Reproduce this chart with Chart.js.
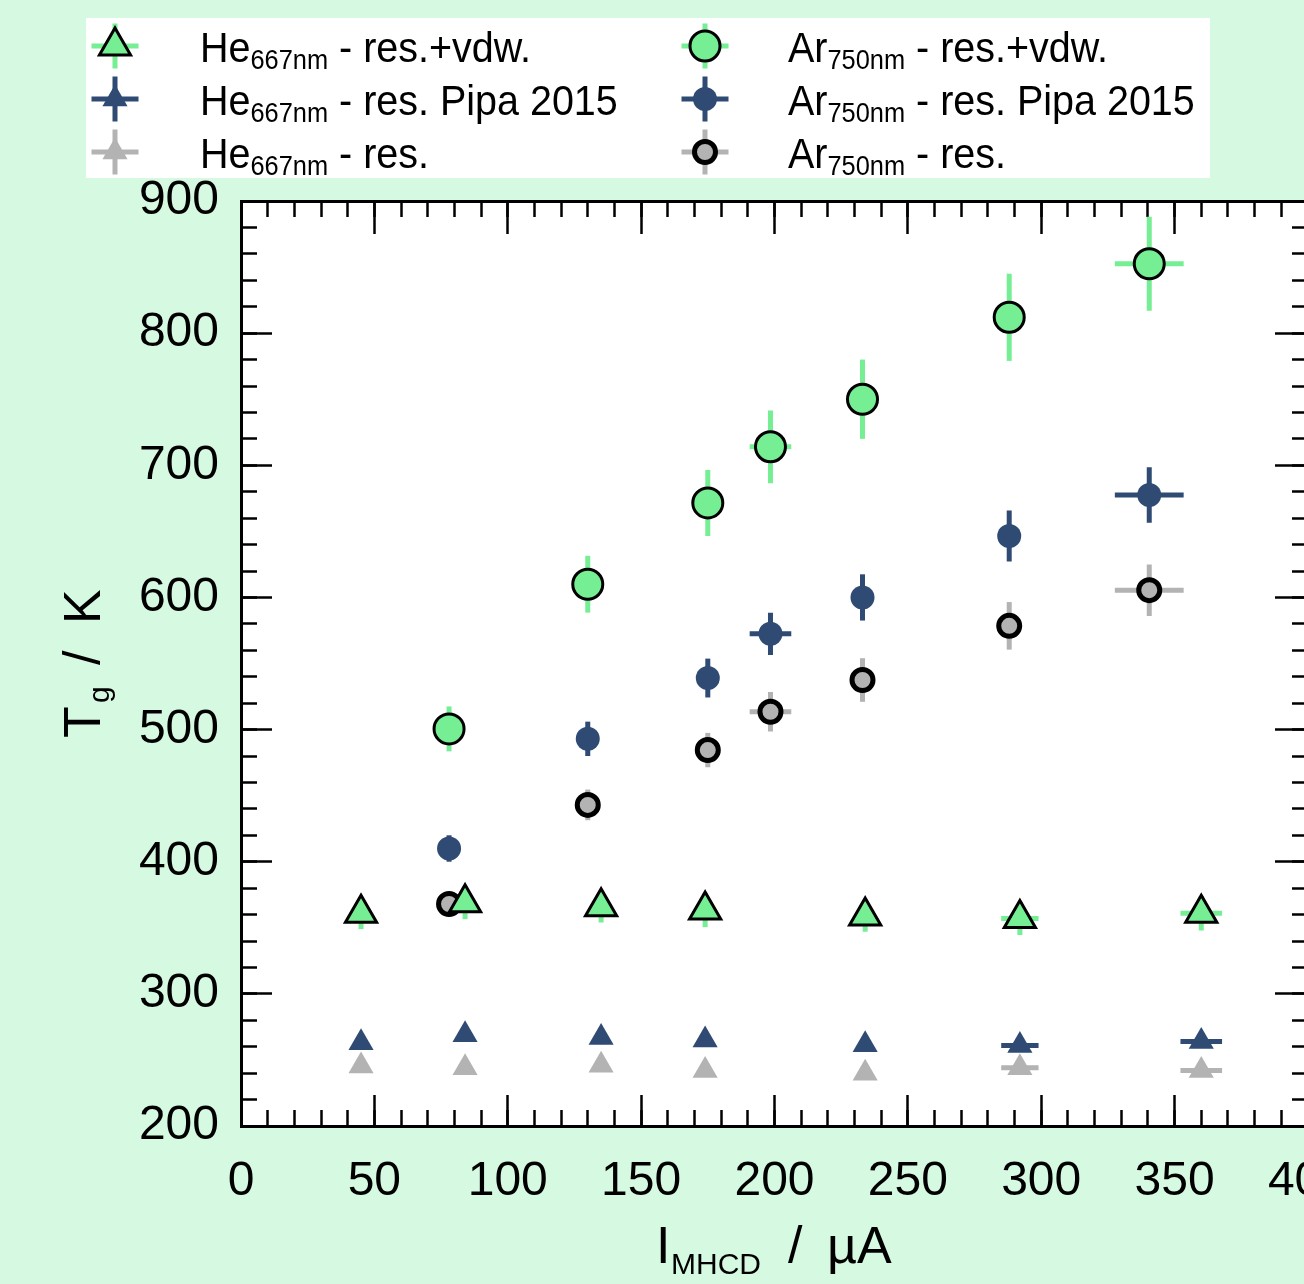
<!DOCTYPE html>
<html>
<head>
<meta charset="utf-8">
<script src="https://cdn.jsdelivr.net/npm/chart.js"></script>
<style>
  html, body { margin: 0; padding: 0; background: #d6f9e1; overflow: hidden; }
  #marco { width: 1304px; height: 1284px; overflow: hidden; }
  canvas { display: block; }
</style>
</head>
<body>
<div id="marco"><canvas id="grafico" width="1406" height="1284" style="width:1406px;height:1284px"></canvas></div>
<script>
// corriente de la descarga (uA) y temperatura del gas (K)
const heCorriente = [45, 84, 135, 174, 234, 292, 360];
const heCorrienteErr = [0, 0, 0, 0, 0, 7, 7.8];
const heVdw = [361, 369, 366, 363.5, 359, 357, 361];
const heVdwErr = [12, 12.5, 12, 13, 12, 12.5, 13];
const hePipa = [263, 269, 267, 265, 261.5, 261, 264];
const hePipaErr = [5, 5, 5, 5, 5, 5, 5];
const heRes = [245.5, 244, 246, 242, 240, 244, 242];
const heResErr = [5, 5, 5, 5, 5, 5, 5];

const arCorriente = [78, 130, 175, 198.5, 233, 288, 340.5];
const arCorrienteErr = [0, 0, 0, 7.8, 0, 0, 12.9];
const arVdw = [500.5, 610, 671.5, 714, 750, 812, 852.5];
const arVdwErr = [17, 21.5, 25, 27.5, 30, 33, 35.5];
const arPipa = [410, 493, 539, 572.5, 600, 646.5, 677.5];
const arPipaErr = [10, 13, 14.7, 16, 17.5, 19.3, 21];
const arRes = [368, 443, 484.5, 513.5, 537.5, 578.5, 605.5];
const arResErr = [9, 11.6, 13, 15, 16.5, 18, 19.5];

// ticks
const xTicks = [0, 50, 100, 150, 200, 250, 300, 350, 400];
const xMenores = [0, 10, 20, 30, 40, 50, 60, 70, 80, 90, 100, 110, 120, 130, 140, 150, 160, 170, 180, 190, 200,
  210, 220, 230, 240, 250, 260, 270, 280, 290, 300, 310, 320, 330, 340, 350, 360, 370, 380, 390, 400];
const yTicks = [200, 300, 400, 500, 600, 700, 800, 900];
const yMenores = [200, 220, 240, 260, 280, 300, 320, 340, 360, 380, 400, 420, 440, 460, 480, 500, 520, 540, 560,
  580, 600, 620, 640, 660, 680, 700, 720, 740, 760, 780, 800, 820, 840, 860, 880, 900];

// textos de la leyenda
const gases = ['He', 'He', 'He', 'Ar', 'Ar', 'Ar'];
const lineas = ['667nm', '667nm', '667nm', '750nm', '750nm', '750nm'];
const metodos = [' - res.+vdw.', ' - res. Pipa 2015', ' - res.', ' - res.+vdw.', ' - res. Pipa 2015', ' - res.'];

const verde = '#76ee94';
const azul = '#2f4a73';
const gris = '#b3b3b3';
const fondoColor = '#d6f9e1';
const fuente = "'Liberation Sans', Arial, sans-serif";

let puntos = (xs, ys) => xs.map((x, i) => ({x: x, y: ys[i]}));

let datasets = [
  {label: 'He vdw', data: puntos(heCorriente, heVdw), errX: heCorrienteErr, errY: heVdwErr, colorError: verde,
    pointStyle: 'triangle', pointRadius: 18, pointBackgroundColor: verde, pointBorderColor: '#000', pointBorderWidth: 3, order: 0},
  {label: 'He Pipa', data: puntos(heCorriente, hePipa), errX: heCorrienteErr, errY: hePipaErr, colorError: azul,
    pointStyle: 'triangle', pointRadius: 14.5, pointBackgroundColor: azul, pointBorderColor: azul, pointBorderWidth: 0, order: 1},
  {label: 'He res', data: puntos(heCorriente, heRes), errX: heCorrienteErr, errY: heResErr, colorError: gris,
    pointStyle: 'triangle', pointRadius: 14.5, pointBackgroundColor: gris, pointBorderColor: gris, pointBorderWidth: 0, order: 2},
  {label: 'Ar vdw', data: puntos(arCorriente, arVdw), errX: arCorrienteErr, errY: arVdwErr, colorError: verde,
    pointStyle: 'circle', pointRadius: 15, pointBackgroundColor: verde, pointBorderColor: '#000', pointBorderWidth: 3, order: 3},
  {label: 'Ar Pipa', data: puntos(arCorriente, arPipa), errX: arCorrienteErr, errY: arPipaErr, colorError: azul,
    pointStyle: 'circle', pointRadius: 12, pointBackgroundColor: azul, pointBorderColor: azul, pointBorderWidth: 0, order: 4},
  {label: 'Ar res', data: puntos(arCorriente, arRes), errX: arCorrienteErr, errY: arResErr, colorError: gris,
    pointStyle: 'circle', pointRadius: 10.5, pointBackgroundColor: gris, pointBorderColor: '#000', pointBorderWidth: 5, order: 5}
];
datasets.forEach(d => { d.pointHoverRadius = d.pointRadius; d.showLine = false; });

// fondo verde y area blanca
const fondo = {
  id: 'fondo',
  beforeDraw(chart) {
    const ctx = chart.ctx, a = chart.chartArea;
    ctx.save();
    ctx.fillStyle = fondoColor;
    ctx.fillRect(0, 0, chart.width, chart.height);
    ctx.fillStyle = '#fff';
    ctx.fillRect(a.left, a.top, a.right - a.left, a.bottom - a.top);
    ctx.restore();
  }
};

// barras de error debajo de cada serie
const barrasError = {
  id: 'barrasError',
  beforeDatasetDraw(chart, args) {
    const ds = chart.data.datasets[args.index];
    const sx = chart.scales.x, sy = chart.scales.y;
    const ctx = chart.ctx;
    ctx.save();
    ctx.strokeStyle = ds.colorError;
    ctx.lineWidth = 5;
    ctx.lineCap = 'butt';
    ds.data.forEach((p, i) => {
      const px = sx.getPixelForValue(p.x), py = sy.getPixelForValue(p.y);
      ctx.beginPath();
      if (ds.errY[i]) {
        ctx.moveTo(px, sy.getPixelForValue(p.y - ds.errY[i]));
        ctx.lineTo(px, sy.getPixelForValue(p.y + ds.errY[i]));
      }
      if (ds.errX[i]) {
        ctx.moveTo(sx.getPixelForValue(p.x - ds.errX[i]), py);
        ctx.lineTo(sx.getPixelForValue(p.x + ds.errX[i]), py);
      }
      ctx.stroke();
    });
    ctx.restore();
  }
};

function marcador(ctx, ds, x, y) {
  ctx.fillStyle = ds.pointBackgroundColor;
  ctx.strokeStyle = ds.pointBorderColor;
  ctx.lineWidth = ds.pointBorderWidth;
  Chart.helpers.drawPoint(ctx, {pointStyle: ds.pointStyle, radius: ds.pointRadius, borderWidth: ds.pointBorderWidth, rotation: 0}, x, y);
}

// pinta trozos de texto alineando el borde de la tinta
function trozo(ctx, texto, font, x, y) {
  ctx.font = font;
  const m = ctx.measureText(texto);
  ctx.fillText(texto, x + m.actualBoundingBoxLeft, y);
}

const leyenda = {
  id: 'leyenda',
  afterDraw(chart) {
    const ctx = chart.ctx;
    ctx.save();
    ctx.fillStyle = '#fff';
    ctx.fillRect(86, 18, 1124, 160);
    chart.data.datasets.forEach((ds, i) => {
      const col = i < 3 ? 0 : 1;
      const fila = i % 3;
      const mx = col == 0 ? 115 : 705;
      const my = 46 + fila * 53;
      ctx.strokeStyle = ds.colorError;
      ctx.lineWidth = 5;
      ctx.beginPath();
      ctx.moveTo(mx - 23.5, my); ctx.lineTo(mx + 23.5, my);
      ctx.moveTo(mx, my - 22.5); ctx.lineTo(mx, my + 22.5);
      ctx.stroke();
      marcador(ctx, ds, mx, my);

      // texto algo mas estrecho, como la fuente original
      ctx.save();
      ctx.translate(col == 0 ? 200 : 788, my + 16);
      ctx.scale(0.94, 1);
      let tx = 0;
      ctx.fillStyle = '#000';
      ctx.textAlign = 'left';
      ctx.textBaseline = 'alphabetic';
      ctx.font = '42px ' + fuente;
      ctx.fillText(gases[i], tx, 0);
      tx += ctx.measureText(gases[i]).width;
      ctx.font = '27px ' + fuente;
      ctx.fillText(lineas[i], tx, 7);
      tx += ctx.measureText(lineas[i]).width;
      ctx.font = '42px ' + fuente;
      ctx.fillText(metodos[i], tx, 0);
      ctx.restore();
    });

    // titulos de los ejes
    ctx.fillStyle = '#000';
    ctx.textAlign = 'left';
    ctx.textBaseline = 'alphabetic';
    const grande = '52px ' + fuente, chica = '30px ' + fuente;
    trozo(ctx, 'I', grande, 660, 1263);
    trozo(ctx, 'MHCD', chica, 673, 1274);
    trozo(ctx, '/', grande, 788, 1263);
    trozo(ctx, 'µA', grande, 830, 1263);

    ctx.translate(99.5, 737);
    ctx.rotate(-Math.PI / 2);
    trozo(ctx, 'T', grande, 0, 0);
    trozo(ctx, 'g', chica, 35, 9);
    trozo(ctx, '/', grande, 72, 0);
    trozo(ctx, 'K', grande, 117, 0);
    ctx.restore();
  }
};

let ticksDe = (lista) => (s) => { s.ticks = lista.map(v => ({value: v})); };
let marcas = (largo) => ({drawOnChartArea: false, drawTicks: true, tickLength: largo, tickWidth: 2.5, tickColor: '#000'});
let borde = {display: true, color: '#000', width: 3};
let sinEtiquetas = {display: false, autoSkip: false};

new Chart(document.getElementById('grafico'), {
  type: 'scatter',
  data: {datasets: datasets},
  options: {
    responsive: false,
    animation: false,
    events: [],
    devicePixelRatio: 1,
    layout: {padding: {top: 201, left: 0, right: 97, bottom: 0}},
    plugins: {legend: {display: false}, tooltip: {enabled: false}},
    scales: {
      x: {
        type: 'linear', position: 'bottom', min: 0, max: 400,
        afterBuildTicks: ticksDe(xTicks),
        afterFit: (s) => { s.height = 158; },
        ticks: {color: '#000', font: {family: fuente, size: 48}, padding: 58, maxRotation: 0, minRotation: 0, autoSkip: false,
          callback: (v) => String(v)},
        grid: marcas(-31),
        border: borde
      },
      y: {
        type: 'linear', position: 'left', min: 200, max: 900,
        afterBuildTicks: ticksDe(yTicks),
        afterFit: (s) => { s.width = 241; },
        ticks: {color: '#000', font: {family: fuente, size: 48}, padding: 53, autoSkip: false, callback: (v) => String(v)},
        grid: marcas(-31),
        border: borde
      },
      xMenor: {
        type: 'linear', axis: 'x', position: {y: 200}, min: 0, max: 400,
        afterBuildTicks: ticksDe(xMenores), ticks: sinEtiquetas, grid: marcas(-16), border: {display: false}
      },
      xArriba: {
        type: 'linear', axis: 'x', position: {y: 900}, min: 0, max: 400,
        afterBuildTicks: ticksDe(xTicks), ticks: sinEtiquetas, grid: marcas(31), border: borde
      },
      xArribaMenor: {
        type: 'linear', axis: 'x', position: {y: 900}, min: 0, max: 400,
        afterBuildTicks: ticksDe(xMenores), ticks: sinEtiquetas, grid: marcas(16), border: {display: false}
      },
      yMenor: {
        type: 'linear', axis: 'y', position: {x: 0}, min: 200, max: 900,
        afterBuildTicks: ticksDe(yMenores), ticks: sinEtiquetas, grid: marcas(-16), border: {display: false}
      },
      yDerecha: {
        type: 'linear', axis: 'y', position: {x: 400}, min: 200, max: 900,
        afterBuildTicks: ticksDe(yTicks), ticks: sinEtiquetas, grid: marcas(31), border: borde
      },
      yDerechaMenor: {
        type: 'linear', axis: 'y', position: {x: 400}, min: 200, max: 900,
        afterBuildTicks: ticksDe(yMenores), ticks: sinEtiquetas, grid: marcas(16), border: {display: false}
      }
    }
  },
  plugins: [fondo, barrasError, leyenda]
});
</script>
</body>
</html>
